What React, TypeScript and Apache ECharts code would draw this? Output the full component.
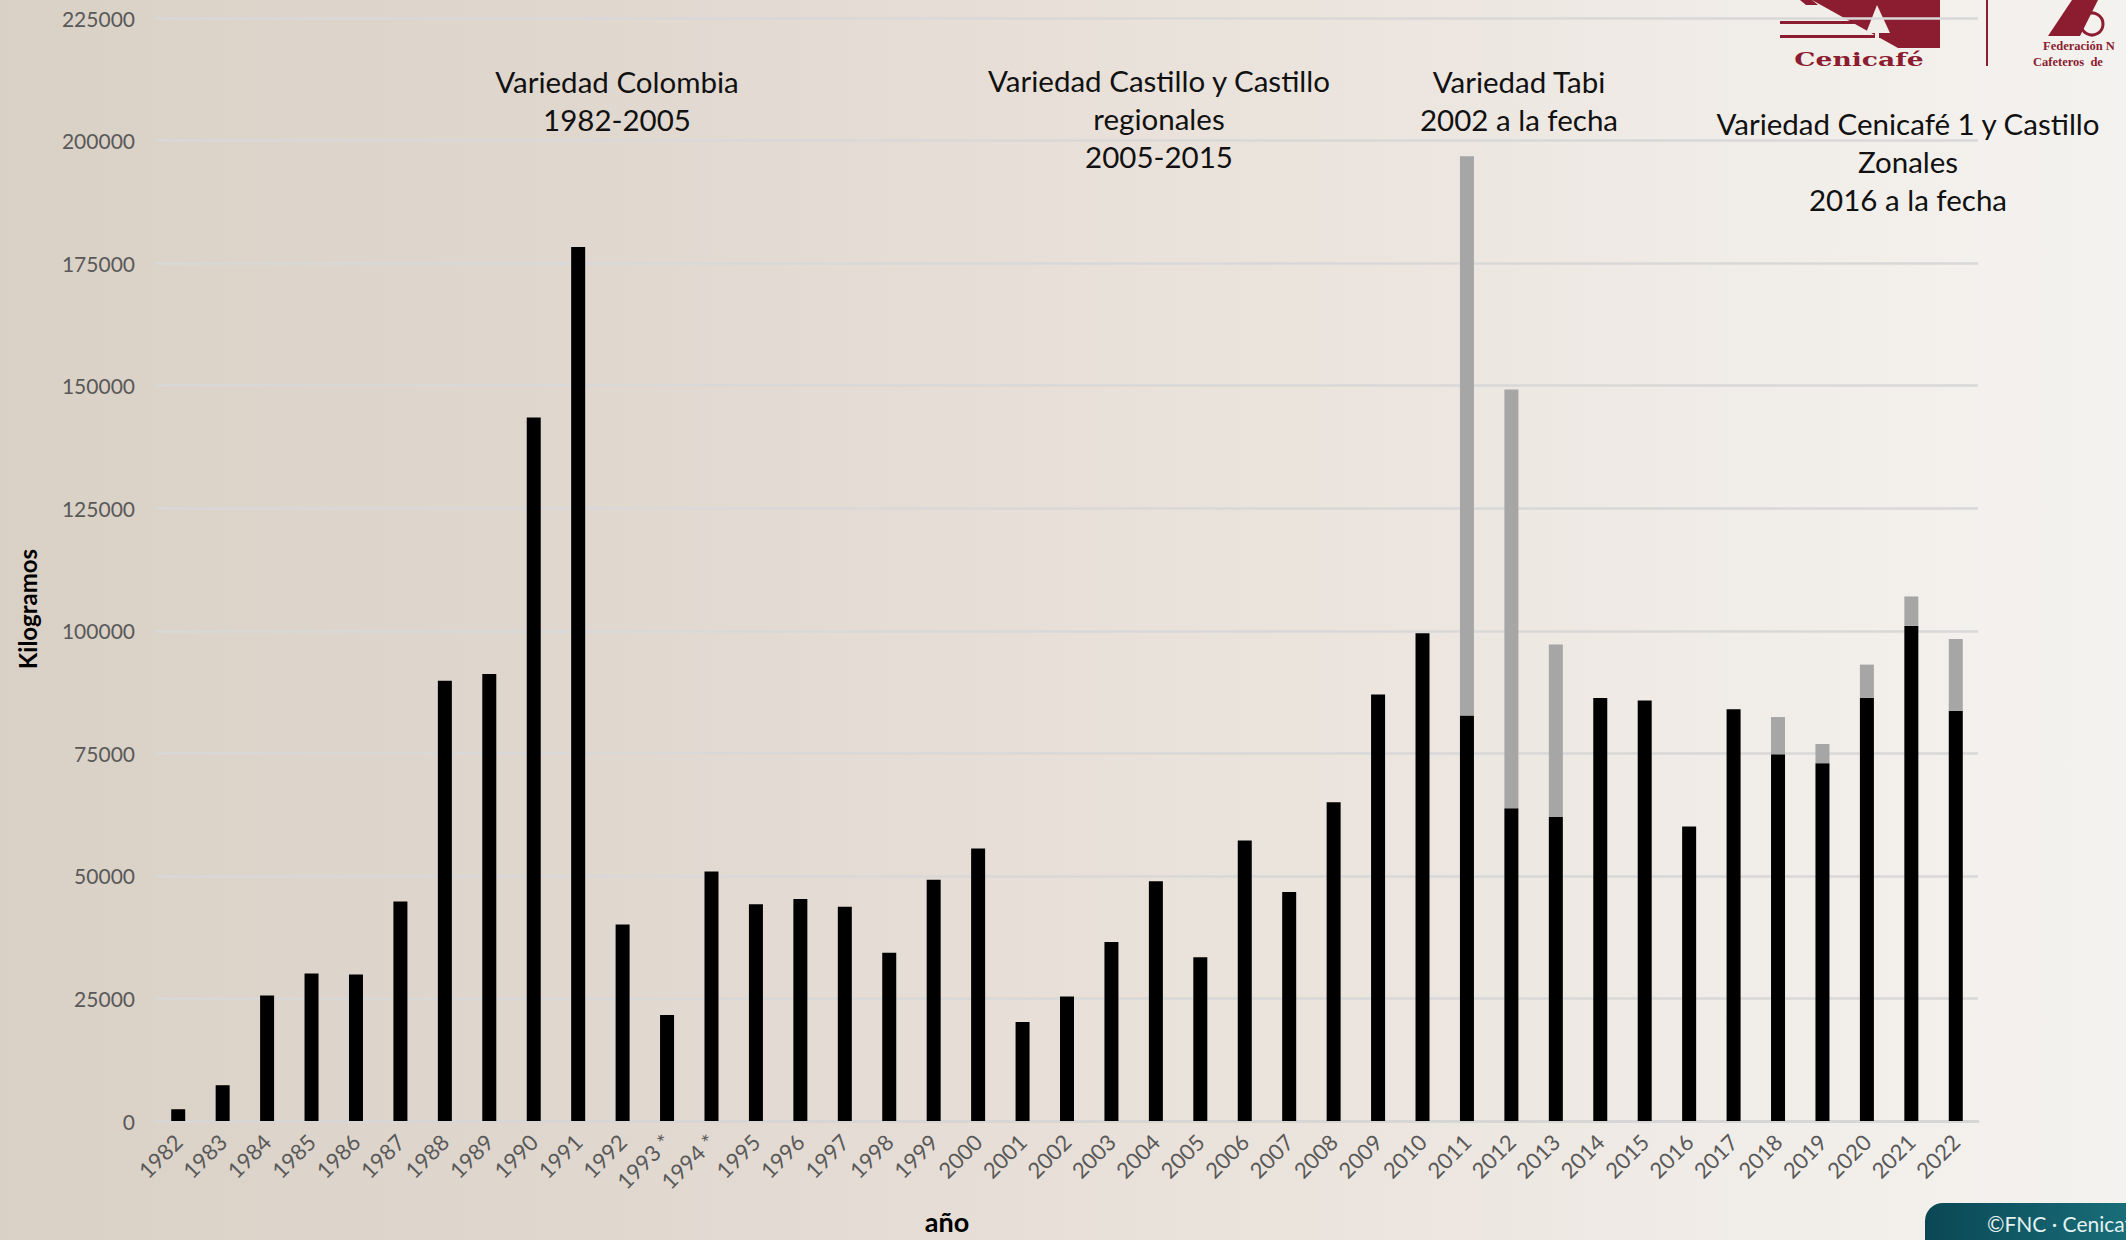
import React, { useEffect, useRef } from 'react';
import * as echarts from 'echarts';

const years = [
  '1982', '1983', '1984', '1985', '1986', '1987', '1988', '1989', '1990', '1991',
  '1992', '1993 *', '1994 *', '1995', '1996', '1997', '1998', '1999', '2000', '2001',
  '2002', '2003', '2004', '2005', '2006', '2007', '2008', '2009', '2010', '2011',
  '2012', '2013', '2014', '2015', '2016', '2017', '2018', '2019', '2020', '2021', '2022',
];

// Black bars (kilogramos)
const baseValues = [
  2400, 7300, 25600, 30100, 29900, 44800, 89800, 91200, 143500, 178300,
  40100, 21600, 50900, 44200, 45300, 43700, 34300, 49200, 55600, 20200,
  25400, 36500, 48900, 33400, 57200, 46700, 65000, 87000, 99500, 82700,
  63800, 62000, 86300, 85800, 60100, 84000, 74800, 73000, 86300, 101000, 83700,
];

// Grey bars stacked on top (kilogramos)
const extraValues = [
  null, null, null, null, null, null, null, null, null, null,
  null, null, null, null, null, null, null, null, null, null,
  null, null, null, null, null, null, null, null, null, 114100,
  85400, 35200, null, null, null, null, 7600, 3900, 6800, 6000, 14600,
];

const yMin = 0;
const yMax = 225000;
const yStep = 25000;

const annotations = [
  { text: 'Variedad Colombia\n1982-2005', x: 617, y: 100 },
  { text: 'Variedad Castillo y Castillo\nregionales\n2005-2015', x: 1159, y: 118 },
  { text: 'Variedad Tabi\n2002 a la fecha', x: 1519, y: 100 },
  { text: 'Variedad Cenicafé 1 y Castillo\nZonales\n2016 a la fecha', x: 1908, y: 161 },
];

export default function App() {
  const ref = useRef<HTMLDivElement>(null);

  useEffect(() => {
    if (!ref.current) return;
    const chart = echarts.init(ref.current, null, { renderer: 'svg' });
    const maroon = '#8c1d30';
    const font = 'Lato, "Open Sans", sans-serif';

    const annotationGraphics = annotations.map((a) => ({
      type: 'text',
      x: a.x,
      y: a.y,
      z: 10,
      style: {
        text: a.text,
        fill: '#111111',
        fontSize: 29.5,
        fontFamily: font,
        align: 'center',
        verticalAlign: 'middle',
        lineHeight: 38,
      },
    }));

    chart.setOption({
      animation: false,
      backgroundColor: 'transparent',
      grid: { left: 156, right: 148, top: 18, bottom: 119 },
      xAxis: {
        type: 'category',
        data: years,
        axisLine: { show: true, lineStyle: { color: '#d6d6d6', width: 3 } },
        axisTick: { show: false },
        axisLabel: {
          interval: 0,
          rotate: 45,
          fontSize: 22,
          color: '#595959',
          fontFamily: font,
          margin: 17,
        },
      },
      yAxis: {
        type: 'value',
        min: yMin,
        max: yMax,
        interval: yStep,
        axisLine: { show: false },
        axisTick: { show: false },
        axisLabel: {
          fontSize: 21,
          color: '#595959',
          fontFamily: font,
          margin: 21,
          formatter: (v: number) => String(v),
        },
        splitLine: { lineStyle: { color: '#d8d8d8', width: 2.5 } },
      },
      series: [
        {
          type: 'bar',
          stack: 'total',
          data: baseValues,
          barWidth: 14,
          itemStyle: { color: '#000000' },
        },
        {
          type: 'bar',
          stack: 'total',
          data: extraValues,
          barWidth: 14,
          itemStyle: { color: '#a6a6a6' },
        },
      ],
      graphic: [
        ...annotationGraphics,
        {
          type: 'text',
          x: 27,
          y: 609,
          rotation: Math.PI / 2,
          style: {
            text: 'Kilogramos',
            fill: '#000',
            fontSize: 24,
            fontWeight: 'bold',
            fontFamily: font,
            align: 'center',
            verticalAlign: 'middle',
          },
        },
        {
          type: 'text',
          x: 947,
          y: 1221,
          style: {
            text: 'año',
            fill: '#000',
            fontSize: 27,
            fontWeight: 'bold',
            fontFamily: font,
            align: 'center',
            verticalAlign: 'middle',
          },
        },
        // Cenicafé logo (approximation)
        {
          type: 'polygon',
          shape: { points: [[1812, 0], [1940, 0], [1940, 48], [1898, 48]] },
          style: { fill: maroon },
        },
        {
          type: 'polygon',
          shape: { points: [[1800, 0], [1812, 0], [1818, 5], [1806, 5]] },
          style: { fill: maroon },
        },
        { type: 'rect', shape: { x: 1780, y: 21, width: 100, height: 3 }, style: { fill: maroon } },
        { type: 'rect', shape: { x: 1780, y: 35, width: 118, height: 3 }, style: { fill: maroon } },
        {
          type: 'polygon',
          shape: { points: [[1877, 5], [1866, 33], [1890, 33]] },
          style: { fill: '#f1ede8' },
        },
        { type: 'rect', shape: { x: 1875, y: 32, width: 4, height: 6 }, style: { fill: '#f1ede8' } },
        {
          type: 'text',
          x: 1859,
          y: 59,
          scaleX: 1.4,
          style: {
            text: 'Cenicafé',
            fill: maroon,
            fontSize: 19,
            fontWeight: 'bold',
            fontFamily: '"DejaVu Serif", serif',
            align: 'center',
            verticalAlign: 'middle',
          },
        },
        { type: 'rect', shape: { x: 1986, y: 0, width: 2, height: 66 }, style: { fill: maroon } },
        // Federación logo (approximation, cut by page edge)
        {
          type: 'polygon',
          shape: { points: [[2048, 36], [2072, 0], [2098, 0], [2080, 36]] },
          style: { fill: maroon },
        },
        {
          type: 'circle',
          shape: { cx: 2092, cy: 24, r: 11 },
          style: { fill: 'none', stroke: maroon, lineWidth: 3 },
        },
        {
          type: 'text',
          x: 2043,
          y: 46,
          style: {
            text: 'Federación N',
            fill: maroon,
            fontSize: 12.5,
            fontWeight: 'bold',
            fontFamily: '"Liberation Serif", serif',
            align: 'left',
            verticalAlign: 'middle',
          },
        },
        {
          type: 'text',
          x: 2033,
          y: 62,
          style: {
            text: 'Cafeteros  de',
            fill: maroon,
            fontSize: 12.5,
            fontWeight: 'bold',
            fontFamily: '"Liberation Serif", serif',
            align: 'left',
            verticalAlign: 'middle',
          },
        },
        // copyright badge
        {
          type: 'rect',
          shape: { x: 1925, y: 1203, width: 240, height: 60, r: 18 },
          style: {
            fill: new echarts.graphic.LinearGradient(0, 0, 1, 0, [
              { offset: 0, color: '#0a4754' },
              { offset: 1, color: '#1b7580' },
            ]),
          },
        },
        {
          type: 'text',
          x: 1987,
          y: 1223,
          style: {
            text: '©FNC · Cenicafé',
            fill: '#e3f1f1',
            fontSize: 21,
            fontFamily: font,
            align: 'left',
            verticalAlign: 'middle',
          },
        },
      ],
    });

    return () => chart.dispose();
  }, []);

  return (
    <div
      ref={ref}
      style={{
        position: 'fixed',
        left: 0,
        top: 0,
        width: 2126,
        height: 1240,
        background:
          'linear-gradient(90deg, #dad1c6 0%, #dfd7ce 25%, #e8e0d8 50%, #ede7e1 70%, #f2efeb 88%, #f4f2ef 100%)',
      }}
    />
  );
}
